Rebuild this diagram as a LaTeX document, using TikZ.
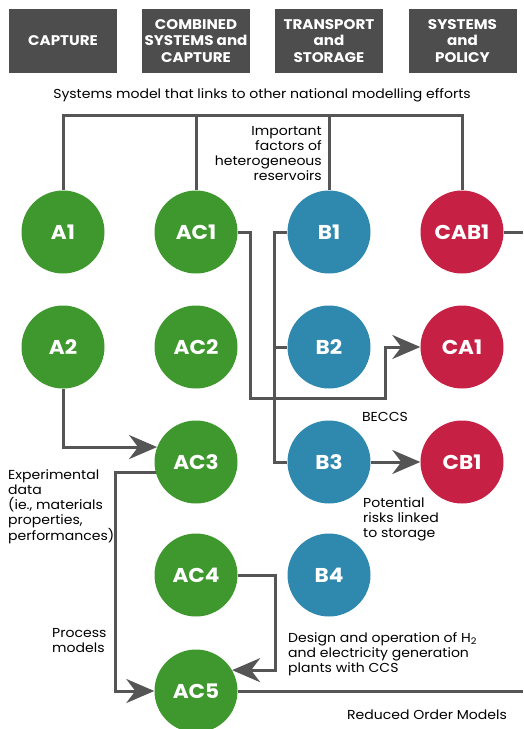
\documentclass[tikz,border=0pt]{standalone}
\usepackage{fontspec}
\setmainfont[FakeStretch=1.08]{Poppins}
\usetikzlibrary{arrows.meta, positioning}
\definecolor{capgreen}{HTML}{3F982E}
\definecolor{storblue}{HTML}{2F88AE}
\definecolor{polred}{HTML}{C62044}
\definecolor{boxgrey}{HTML}{4D4D4D}
\definecolor{linegrey}{HTML}{555555}
\tikzset{
  theme/.style={fill=boxgrey, text=white, font=\fontsize{14}{16.5}\selectfont\bfseries,
    minimum width=108pt, minimum height=64pt, align=center, inner sep=0pt},
  model/.style={circle, minimum size=83pt, inner sep=0pt, text=white,
    font=\fontsize{20}{22}\selectfont\bfseries},
  capt/.style={model, fill=capgreen},
  stor/.style={model, fill=storblue},
  poli/.style={model, fill=polred},
  link/.style={draw=linegrey, line width=3pt},
  feed/.style={link, -{Stealth[length=28pt,width=24pt,inset=9pt]}},
  note/.style={font=\fontsize{13}{15}\selectfont, inner sep=0pt},
}

\begin{document}
\begin{tikzpicture}[x=1pt, y=-1pt]
\useasboundingbox (0,0) rectangle (523,729);
% theme headers
\node [theme] (hcap)  at (63,41)    {CAPTURE};
\node [theme] (hcomb) at (196,41)   {COMBINED\\SYSTEMS and\\CAPTURE};
\node [theme] (htran) at (329,41)   {TRANSPORT\\and\\STORAGE};
\node [theme] (hsys)  at (462.5,41) {SYSTEMS\\and\\POLICY};
\node [note] (sysmodel) at (262,95)
  {Systems model that links to other national modelling efforts};
% models
\node [capt] (A1)   at (63,232)  {A1};
\node [capt] (AC1)  at (196,232) {AC1};
\node [stor] (B1)   at (329,232) {B1};
\node [poli] (CAB1) at (462,232) {CAB1};
\node [capt] (A2)   at (63,347)  {A2};
\node [capt] (AC2)  at (196,347) {AC2};
\node [stor] (B2)   at (329,347) {B2};
\node [poli] (CA1)  at (462,347) {CA1};
\node [capt] (AC3)  at (196,462) {AC3};
\node [stor] (B3)   at (329,462) {B3};
\node [poli] (CB1)  at (462,462) {CB1};
\node [capt] (AC4)  at (196,575) {AC4};
\node [stor] (B4)   at (329,575) {B4};
\node [capt] (AC5)  at (196,691) {AC5};
\coordinate (bus)  at (0,115);
\coordinate (rimT) at (523,232);
\coordinate (rimB) at (523,691);
% links
\draw [link] (A1.north) -- (A1.north |- bus) -- (CAB1.north |- bus) -- (CAB1.north);
\draw [link] (AC1.north) -- (AC1.north |- bus);
\draw [link] (B1.north) -- (B1.north |- bus);
\draw [link] (CAB1.east) -- (rimT);
\draw [feed] (AC1.east) -- ++(13,0) |- (385,398) |- (CA1.west);
\draw [link] (B1.west) -- ++(-12.5,0) |- (B3.west);
\draw [link] (B2.west) -- ++(-12.5,0);
\draw [feed] (B3.east) -- (CB1.west);
\draw [feed] (A2.south) |- (AC3.159);
\draw [feed] (AC3.194) -- ++(-40,0) |- (AC5.west);
\draw [feed] (AC4.east) -- ++(37.5,0) |- (AC5.30);
\draw [link] (AC5.east) -- (rimB);
% notes
\node [note, align=right, anchor=north east] (hetres) at (322,126)
  {Important\\factors of\\heterogeneous\\reservoirs};
\node [note] (beccs) at (385,417) {BECCS};
\node [note, align=left, anchor=north west] (risks) at (363,497)
  {Potential\\risks linked\\to storage};
\node [note, align=left, anchor=north west] (expdata) at (8,469)
  {Experimental\\data\\(ie., materials\\properties,\\performances)};
\node [note, align=left, anchor=north west] (procmod) at (52,628)
  {Process\\models};
\node [note, align=left, anchor=north west] (design) at (288,632)
  {Design and operation of H\textsubscript{2}\\and electricity generation\\plants with CCS};
\node [note] (rom) at (427,715) {Reduced Order Models};
\end{tikzpicture}
\end{document}
